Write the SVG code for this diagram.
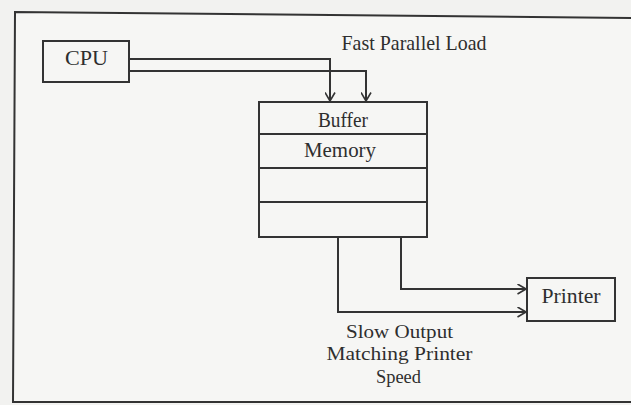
<svg xmlns="http://www.w3.org/2000/svg" width="631" height="405" viewBox="0 0 631 405">
<defs>
<style>
.box{fill:#f6f6f4;stroke:#333;stroke-width:2}
.ln{fill:none;stroke:#333;stroke-width:2}
.t{font-family:"Liberation Serif","Times New Roman",serif;font-size:21px;fill:#2e2e2e;text-anchor:middle}
.s{font-size:19.5px}
</style>
<marker id="arr" viewBox="0 0 9 11" refX="9" refY="5.5" markerWidth="9" markerHeight="11" markerUnits="userSpaceOnUse" orient="auto">
<path d="M0.5,0.5 L9,5.5 L0.5,10.5" fill="none" stroke="#333" stroke-width="1.6"/>
</marker>
</defs>
<rect x="0" y="0" width="631" height="405" fill="#f2f2f0"/>
<path d="M640,18 L15,12 L13,402 L640,402" fill="#f6f6f4" stroke="#333" stroke-width="2"/>
<text class="t" x="414" y="50" textLength="145" lengthAdjust="spacingAndGlyphs">Fast Parallel Load</text>
<g id="connectors">
<polyline class="ln" points="129,59 330,59 330,101" marker-end="url(#arr)"/>
<polyline class="ln" points="129,71 366,71 366,101" marker-end="url(#arr)"/>
<polyline class="ln" points="401,237 401,289 526,289" marker-end="url(#arr)"/>
<polyline class="ln" points="338,237 338,312 526,312" marker-end="url(#arr)"/>
</g>
<g id="cpu">
<rect class="box" x="43" y="41" width="86" height="41"/>
<text class="t" x="86.5" y="64.5" textLength="43" lengthAdjust="spacingAndGlyphs">CPU</text>
</g>
<g id="buffer">
<rect class="box" x="259" y="102" width="168" height="135"/>
<line class="ln" x1="259" y1="134" x2="427" y2="134"/>
<line class="ln" x1="259" y1="168" x2="427" y2="168"/>
<line class="ln" x1="259" y1="202" x2="427" y2="202"/>
<text class="t" x="343" y="127" textLength="50" lengthAdjust="spacingAndGlyphs">Buffer</text>
<text class="t" x="340" y="156.5" textLength="72" lengthAdjust="spacingAndGlyphs">Memory</text>
</g>
<g id="printer">
<rect class="box" x="527" y="278" width="88" height="43"/>
<text class="t" x="571" y="303" textLength="59" lengthAdjust="spacingAndGlyphs">Printer</text>
</g>
<g id="output-label">
<text class="t s" x="399.5" y="337.5" textLength="107" lengthAdjust="spacingAndGlyphs">Slow Output</text>
<text class="t s" x="399.5" y="360" textLength="146" lengthAdjust="spacingAndGlyphs">Matching Printer</text>
<text class="t s" x="398.5" y="383" textLength="45" lengthAdjust="spacingAndGlyphs">Speed</text>
</g>
</svg>
